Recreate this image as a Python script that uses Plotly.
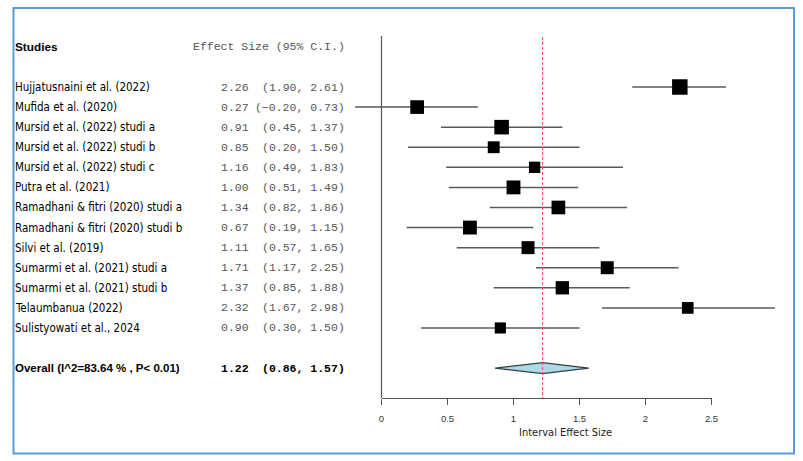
import plotly.graph_objects as go

# study data
studies = [
    "Hujjatusnaini et al. (2022)",
    "Mufida et al. (2020)",
    "Mursid et al. (2022) studi a",
    "Mursid et al. (2022) studi b",
    "Mursid et al. (2022) studi c",
    "Putra et al. (2021)",
    "Ramadhani & fitri (2020) studi a",
    "Ramadhani & fitri (2020) studi b",
    "Silvi et al. (2019)",
    "Sumarmi et al. (2021) studi a",
    "Sumarmi et al. (2021) studi b",
    "Telaumbanua (2022)",
    "Sulistyowati et al., 2024",
]
effect = [2.26, 0.27, 0.91, 0.85, 1.16, 1.00, 1.34, 0.67, 1.11, 1.71, 1.37, 2.32, 0.90]
lower = [1.90, -0.20, 0.45, 0.20, 0.49, 0.51, 0.82, 0.19, 0.57, 1.17, 0.85, 1.67, 0.30]
upper = [2.61, 0.73, 1.37, 1.50, 1.83, 1.49, 1.86, 1.15, 1.65, 2.25, 1.88, 2.98, 1.50]
weights = [8.6, 7.6, 8.1, 6.6, 6.3, 7.7, 7.6, 7.7, 7.2, 7.2, 7.4, 6.5, 6.2]

overall_label = "Overall (I^2=83.64 % , P< 0.01)"
overall = [0.86, 1.22, 1.57]  # lower, estimate, upper

tick_vals = [0, 0.5, 1, 1.5, 2, 2.5]
tick_text = ["0", "0.5", "1", "1.5", "2", "2.5"]

W, H = 803, 461
rows = list(range(len(studies)))
overall_row = len(studies) + 1
header_row = -2

fig = go.Figure()

# confidence interval lines
ci_x, ci_y = [], []
for r, lo, hi in zip(rows, lower, upper):
    ci_x += [lo, hi, None]
    ci_y += [r, r, None]
fig.add_trace(go.Scatter(x=ci_x, y=ci_y, mode="lines",
                         line=dict(color="#5a5a5a", width=1.5),
                         hoverinfo="skip", showlegend=False))

# study boxes
fig.add_trace(go.Scatter(x=effect, y=rows, mode="markers",
                         marker=dict(symbol="square", color="black", opacity=1,
                                     size=[w * 1.8 for w in weights],
                                     line=dict(width=0)),
                         showlegend=False))

# overall diamond
d = 0.27
fig.add_trace(go.Scatter(
    x=[overall[0], overall[1], overall[2], overall[1], overall[0]],
    y=[overall_row, overall_row - d, overall_row, overall_row + d, overall_row],
    mode="lines", fill="toself", fillcolor="#add8e6",
    line=dict(color="#334040", width=1.2),
    hoverinfo="skip", showlegend=False))

# dummy trace so the tick axis is drawn
fig.add_trace(go.Scatter(x=[0, 2.5], y=[overall_row, overall_row], xaxis="x2",
                         mode="markers", marker=dict(opacity=0),
                         hoverinfo="skip", showlegend=False))

# text columns
sans = "Liberation Sans Narrow, Arial Narrow, DejaVu Sans Condensed, sans-serif"
bold = "Liberation Sans, Arial, sans-serif"
mono = "Liberation Mono, Courier New, monospace"
ann = []
def px(v):
    return v / W

ann.append(dict(x=px(13), y=header_row + 0.03, text="<b>Studies</b>", xanchor="left",
                font=dict(family=bold, size=11.8, color="black")))
ann.append(dict(x=px(347), y=header_row, text="Effect Size (95% C.I.)", xanchor="right",
                font=dict(family=mono, size=11.5, color="#555555")))
for r, s, e, lo, hi in zip(rows, studies, effect, lower, upper):
    ann.append(dict(x=px(13), y=r, text=s, xanchor="left",
                    font=dict(family=sans, size=11.5, color="black")))
    ann.append(dict(x=px(251), y=r, text=f"{e:.2f}", xanchor="right",
                    font=dict(family=mono, size=11.5, color="#555555")))
    ann.append(dict(x=px(347), y=r, text=f"({lo:.2f}, {hi:.2f})".replace("-", "−"),
                    xanchor="right", font=dict(family=mono, size=11.5, color="#555555")))
ann.append(dict(x=px(13), y=overall_row, text=f"<b>{overall_label}</b>", xanchor="left",
                font=dict(family=bold, size=11.5, color="black")))
ann.append(dict(x=px(251), y=overall_row, text=f"<b>{overall[1]:.2f}</b>", xanchor="right",
                font=dict(family=mono, size=11.5, color="black")))
ann.append(dict(x=px(347), y=overall_row, text=f"<b>({overall[0]:.2f}, {overall[2]:.2f})</b>",
                xanchor="right", font=dict(family=mono, size=11.5, color="black")))
ann.append(dict(x=px(565), y=1 - 432 / H, yref="paper", text="Interval Effect Size",
                xanchor="center", font=dict(family=sans, size=11, color="#222222")))
for a in ann:
    a.setdefault("yref", "y")
    a.update(xref="paper", showarrow=False, yanchor="middle")

# pixel mapping: x=0 at 381.5px, 132 px per unit; row 0 at 87px, 20.08 px per row
x0, xs = 381.5, 132.0
y0, ys = 87, 20.08
x_range = [(0 - x0) / xs, (W - x0) / xs]
y_range = [(H - y0) / ys, (0 - y0) / ys]
top_row = (36 - y0) / ys
bottom_row = (398 - y0) / ys

shapes = [
    dict(type="line", xref="x", yref="y", x0=0, x1=0, y0=top_row, y1=bottom_row,
         line=dict(color="#555555", width=1.2)),
    dict(type="line", xref="x", yref="y", x0=overall[1], x1=overall[1],
         y0=top_row + 0.05, y1=bottom_row, line=dict(color="#ff4a4a", width=1, dash="3px,2px")),
    dict(type="rect", xref="paper", yref="paper", x0=px(13.5), x1=px(794),
         y0=1 - 453.5 / H, y1=1 - 8 / H, line=dict(color="#5b9bd5", width=2)),
]

fig.update_layout(
    width=W, height=H, margin=dict(l=0, r=0, t=0, b=0, autoexpand=False),
    paper_bgcolor="white", plot_bgcolor="rgba(0,0,0,0)",
    xaxis=dict(range=x_range, visible=False, domain=[0, 1], automargin=False),
    xaxis2=dict(range=[0, 2.5], domain=[x0 / W, (x0 + 2.5 * xs) / W],
                anchor="free", position=1 - 398 / H, automargin=False,
                showline=True, linecolor="#555555", linewidth=1.2,
                ticks="outside", ticklen=6, tickcolor="#555555", tickwidth=1.2,
                ticklabelstandoff=5,
                tickvals=tick_vals, ticktext=tick_text, showgrid=False, zeroline=False,
                tickfont=dict(family="Liberation Sans, Arial, sans-serif", size=9.5, color="#333333")),
    yaxis=dict(range=y_range, visible=False, domain=[0, 1], automargin=False),
    shapes=shapes, annotations=ann,
)

# drop the default page margin so the figure sits at the window corner
fig.write_html("out.html", config={"displayModeBar": False},
               post_script="document.body.style.margin='0';")
